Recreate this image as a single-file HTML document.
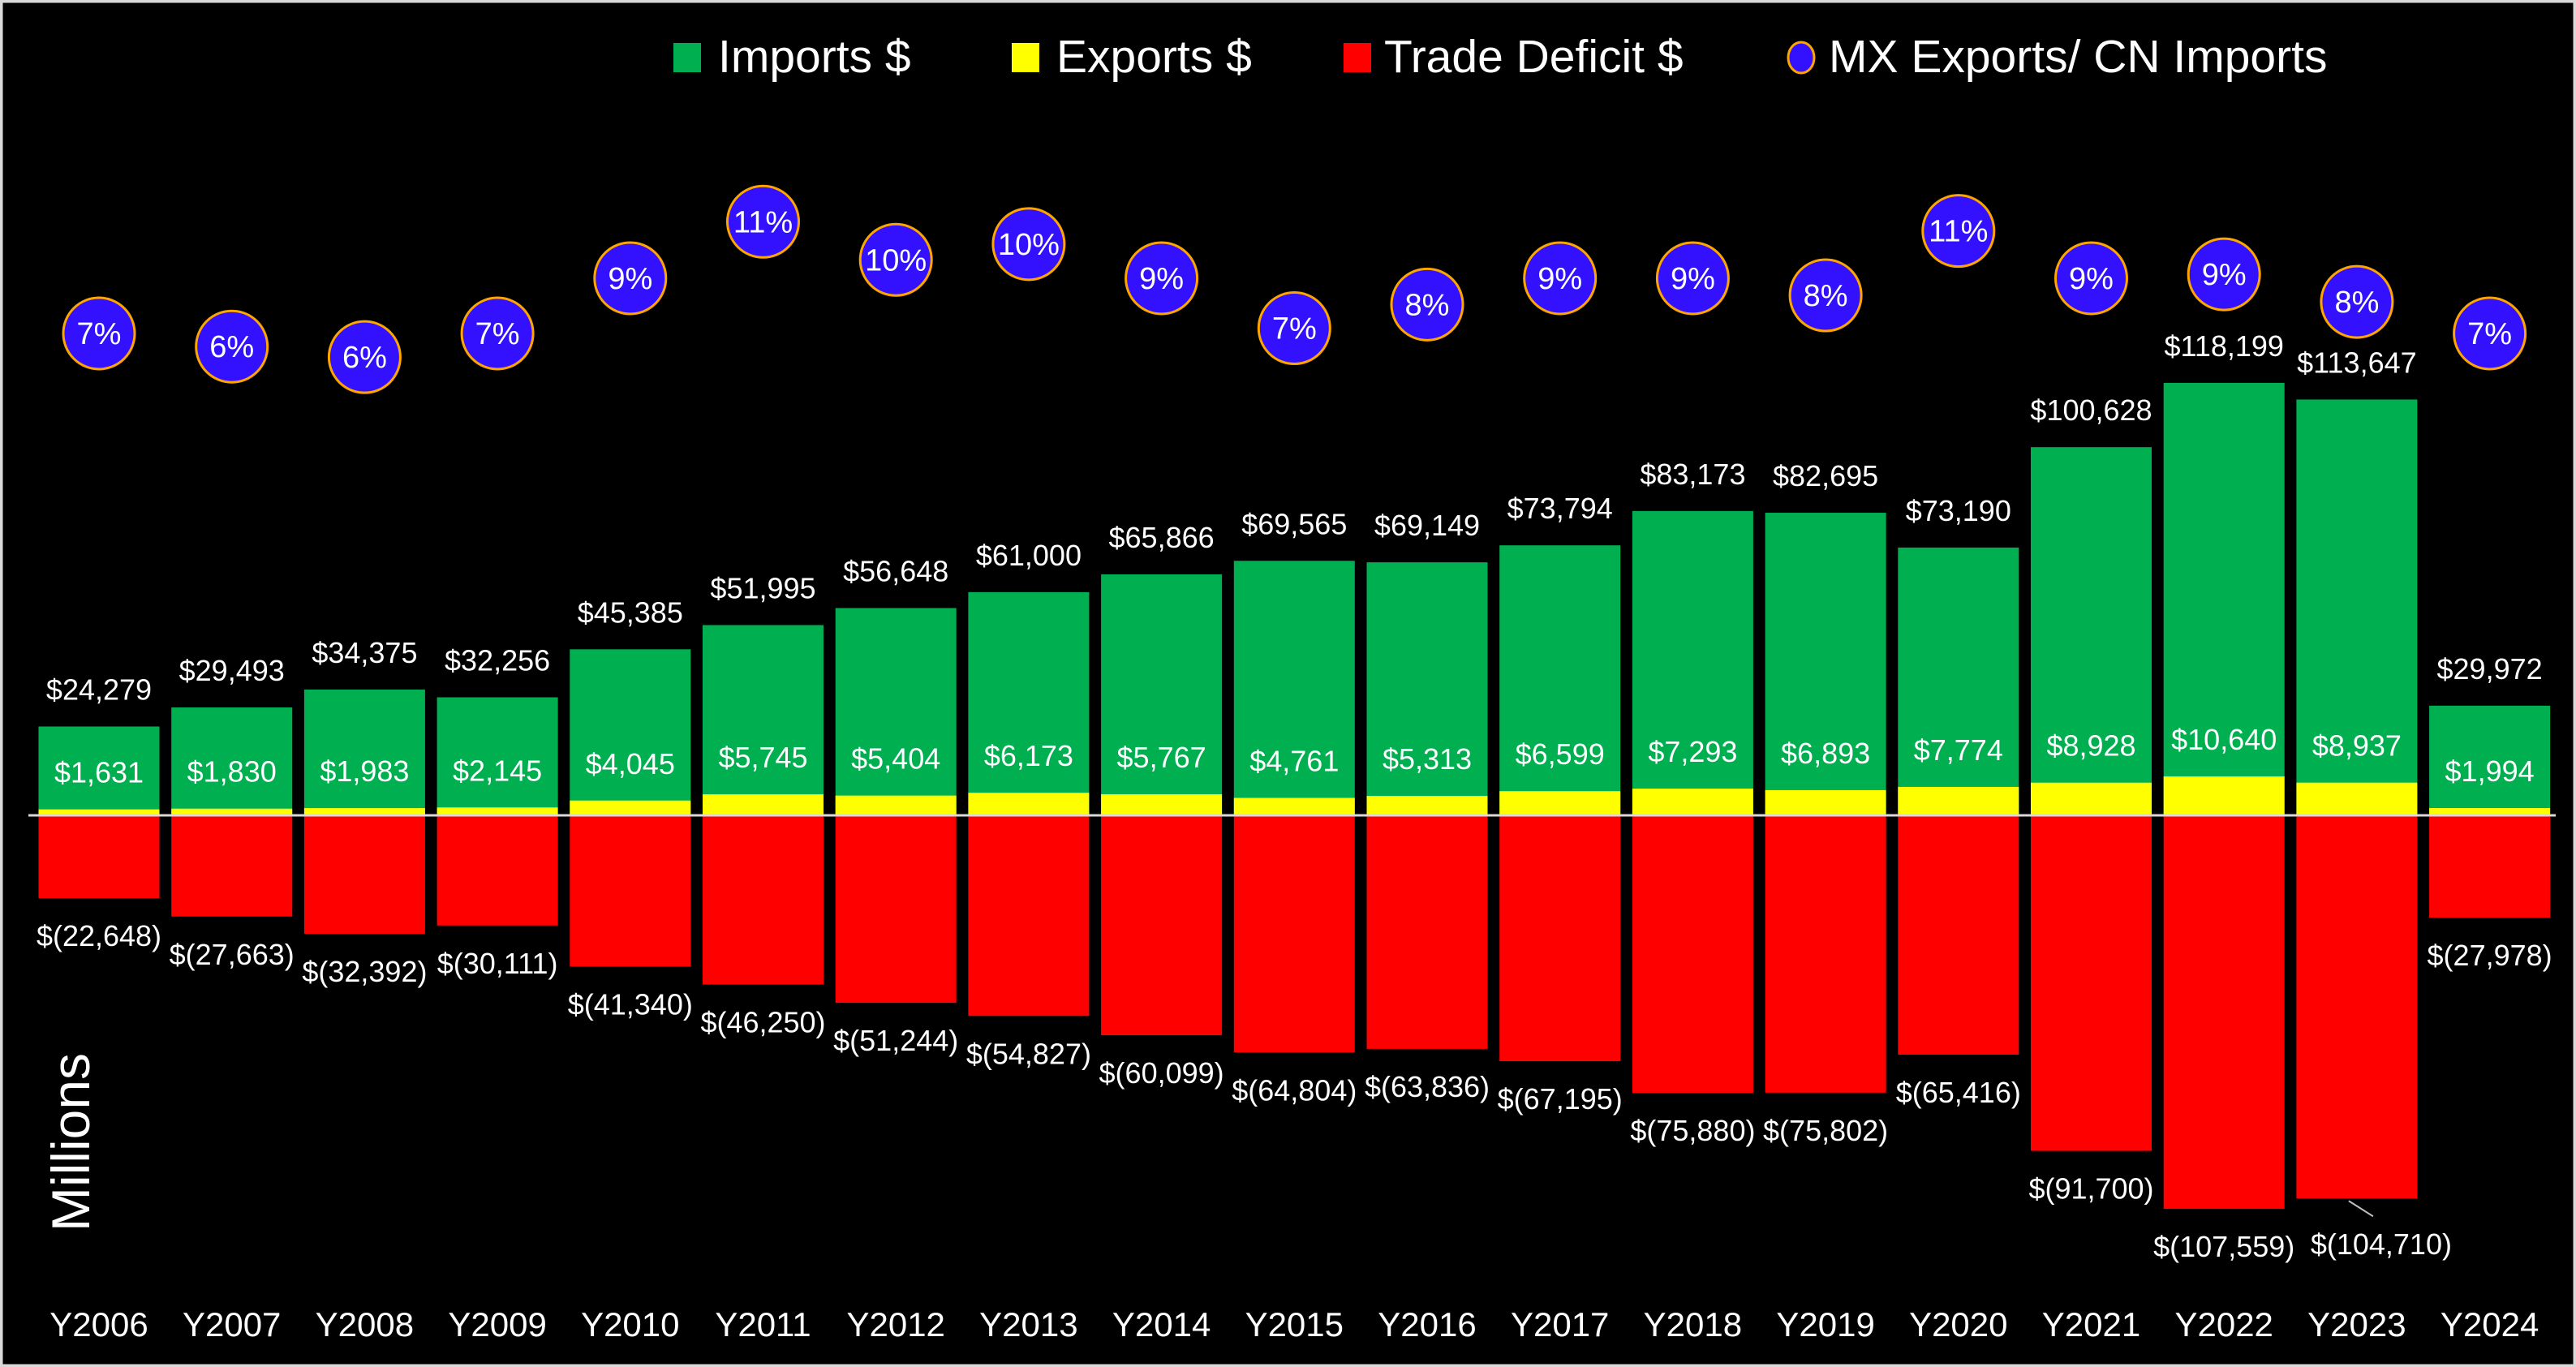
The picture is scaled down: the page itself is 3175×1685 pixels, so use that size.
<!DOCTYPE html>
<html><head><meta charset="utf-8">
<style>
html,body{margin:0;padding:0;background:#000;}
svg{display:block;font-family:"Liberation Sans",sans-serif;}
</style></head>
<body>
<svg id="chart" width="3175" height="1685" viewBox="0 0 3175 1685" xmlns="http://www.w3.org/2000/svg">
<rect x="1.5" y="1.5" width="3172" height="1682" fill="#000" stroke="#d9d9d9" stroke-width="4"/>
<g>
 <rect x="830" y="53" width="34" height="36" fill="#00B050"/>
 <text x="885" y="89" font-size="57" fill="#fff">Imports $</text>
 <rect x="1247" y="53" width="34" height="36" fill="#FFFF00"/>
 <text x="1302" y="89" font-size="57" fill="#fff">Exports $</text>
 <rect x="1656" y="53" width="34" height="36" fill="#FF0000"/>
 <text x="1706" y="89" font-size="57" fill="#fff">Trade Deficit $</text>
 <ellipse cx="2220" cy="71" rx="16" ry="19" fill="#3311FF" stroke="#FFA500" stroke-width="3"/>
 <text x="2254" y="89" font-size="57" fill="#fff">MX Exports/ CN Imports</text>
</g>
<text transform="translate(110,1408) rotate(-90)" text-anchor="middle" font-size="66" fill="#fff">Millions</text>
<g id="bars"></g>
<line x1="35" y1="1005" x2="3150" y2="1005" stroke="#d9d9d9" stroke-width="3"/>
<g id="labels"></g>
<g id="bubbles"></g>
<g id="xaxis"></g>
</svg>
<script>
const categories = ["Y2006","Y2007","Y2008","Y2009","Y2010","Y2011","Y2012","Y2013","Y2014","Y2015","Y2016","Y2017","Y2018","Y2019","Y2020","Y2021","Y2022","Y2023","Y2024"];
const imports = [24279,29493,34375,32256,45385,51995,56648,61000,65866,69565,69149,73794,83173,82695,73190,100628,118199,113647,29972];
const exportsV = [1631,1830,1983,2145,4045,5745,5404,6173,5767,4761,5313,6599,7293,6893,7774,8928,10640,8937,1994];
const deficit = [-22648,-27663,-32392,-30111,-41340,-46250,-51244,-54827,-60099,-64804,-63836,-67195,-75880,-75802,-65416,-91700,-107559,-104710,-27978];
const ratio = [7.0,6.5,6.1,7.0,9.1,11.25,9.8,10.4,9.1,7.2,8.1,9.1,9.1,8.45,10.9,9.1,9.25,8.2,7.0];
const ratioLabels = ["7%","6%","6%","7%","9%","11%","10%","10%","9%","7%","8%","9%","9%","8%","11%","9%","9%","8%","7%"];

const NS="http://www.w3.org/2000/svg";
function xC(i){return 122+i*163.7;}
function yV(v){return 1005 - v*0.00451;}
function yR(p){return 411-(p-7)*32.4;}
const BW=149;
function mk(tag,attrs,parent){const e=document.createElementNS(NS,tag);for(const k in attrs)e.setAttribute(k,attrs[k]);parent.appendChild(e);return e;}
function fmt(v){const s=Math.abs(v).toLocaleString('en-US');return v<0?'$('+s+')':'$'+s;}
const gB=document.getElementById('bars'),gL=document.getElementById('labels'),gU=document.getElementById('bubbles'),gX=document.getElementById('xaxis');
categories.forEach((c,i)=>{
 const x=xC(i)-BW/2;
 let r=mk('rect',{x:x,y:yV(imports[i]),width:BW,height:yV(0)-yV(imports[i]),fill:'#00B050'},gB);
 
 
 r=mk('rect',{x:x,y:yV(exportsV[i]),width:BW,height:yV(0)-yV(exportsV[i]),fill:'#FFFF00'},gB);
 
 
 r=mk('rect',{x:x,y:yV(0),width:BW,height:yV(deficit[i])-yV(0),fill:'#FF0000'},gB);
 
 
 let t=mk('text',{x:xC(i),y:yV(imports[i])-33,'text-anchor':'middle','font-size':36,fill:'#fff'},gL);
 t.textContent=fmt(imports[i]);
 
 
 t=mk('text',{x:xC(i),y:Math.min(966,yV(exportsV[i])-33),'text-anchor':'middle','font-size':36,fill:'#fff'},gL);
 t.textContent=fmt(exportsV[i]);
 
 
 let lx=xC(i), ly=yV(deficit[i])+59;
 if(c==="Y2023"){lx=xC(i)+30; ly=yV(deficit[i-1])+56;
  const ln=mk('line',{x1:xC(i)-10,y1:yV(deficit[i])+3,x2:xC(i)+20,y2:yV(deficit[i])+22,stroke:'#bfbfbf','stroke-width':2},gL);
  
  }
 t=mk('text',{x:lx,y:ly,'text-anchor':'middle','font-size':36,fill:'#fff'},gL);
 t.textContent=fmt(deficit[i]);
 
 
 const b=mk('circle',{cx:xC(i),cy:yR(ratio[i]),r:44,fill:'#3311FF',stroke:'#FFA500','stroke-width':3},gU);
 
 
 t=mk('text',{x:xC(i),y:yR(ratio[i])+13,'text-anchor':'middle','font-size':38,fill:'#fff'},gU);
 t.textContent=ratioLabels[i];
 
 
 t=mk('text',{x:xC(i),y:1647,'text-anchor':'middle','font-size':42,fill:'#fff'},gX);
 t.textContent=c;
 
 
});
</script>
</body></html>
